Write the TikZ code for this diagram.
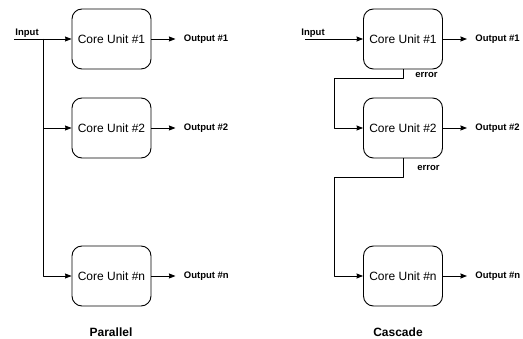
\documentclass[tikz,border=0pt]{standalone}
\usepackage{fontspec}
\setmainfont{Liberation Sans}
\usetikzlibrary{positioning,arrows.meta}
\begin{document}
\begin{tikzpicture}[x=1pt,y=-1pt,line join=round,>={Stealth[length=6.5pt,width=5pt,inset=0.5pt]},line width=0.9pt,
    unit/.style={draw,rounded corners=10pt,minimum width=79pt,minimum height=60pt,
        inner sep=0pt,font=\fontsize{12}{14}\selectfont},
    lbl/.style={inner sep=1pt,font=\fontsize{9.5}{11}\selectfont\bfseries},
    outlbl/.style={lbl,inner sep=0pt,anchor=west},
    title/.style={font=\fontsize{12}{14}\selectfont\bfseries}]
    \useasboundingbox (0,0) rectangle (523,339);
    % parallel
    \node[unit] (p1) at (111.5,39) {Core Unit \#1};
    \node[unit] (p2) at (111.5,128) {Core Unit \#2};
    \node[unit] (pn) at (111.5,276) {Core Unit \#n};
    \coordinate (pin) at (14,39);
    \coordinate (pbus) at (43,39);
    \node[lbl,anchor=south west] (pinlbl) at (pin) {Input};
    \draw[->] (pin) -- (p1);
    \draw[->] (pbus) -- (pbus|-p2) -- (p2);
    \draw[->] (pbus) |- (pn);
    \node[outlbl,right=32pt of p1] (po1) {Output \#1};
    \node[outlbl,right=32pt of p2] (po2) {Output \#2};
    \node[outlbl,right=32pt of pn] (pon) {Output \#n};
    \draw[->,shorten >=8pt] (p1) -- (po1);
    \draw[->,shorten >=8pt] (p2) -- (po2);
    \draw[->,shorten >=8pt] (pn) -- (pon);
    \node[title] (tpar) at (111,332) {Parallel};
    % cascade
    \node[unit] (c1) at (403,39) {Core Unit \#1};
    \node[unit] (c2) at (403,128) {Core Unit \#2};
    \node[unit] (cn) at (403,276) {Core Unit \#n};
    \coordinate (cin) at (305,39);
    \node[lbl,anchor=south west] (cinlbl) at (300,39) {Input};
    \draw[->] (cin) -- (c1);
    \coordinate (e1) at (403,78);
    \coordinate (e1b) at (334,78);
    \coordinate (e2) at (403,177);
    \coordinate (e2b) at (334,177);
    \draw[->] (c1) -- (e1) -- (e1b) |- (c2);
    \draw[->] (c2) -- (e2) -- (e2b) |- (cn);
    \node[lbl,anchor=west] (err1) at (414,75) {error};
    \node[lbl,anchor=west] (err2) at (416,168) {error};
    \node[outlbl,right=32pt of c1] (co1) {Output \#1};
    \node[outlbl,right=32pt of c2] (co2) {Output \#2};
    \node[outlbl,right=32pt of cn] (con) {Output \#n};
    \draw[->,shorten >=8pt] (c1) -- (co1);
    \draw[->,shorten >=8pt] (c2) -- (co2);
    \draw[->,shorten >=8pt] (cn) -- (con);
    \node[title] (tcas) at (398,332) {Cascade};
\end{tikzpicture}
\end{document}
